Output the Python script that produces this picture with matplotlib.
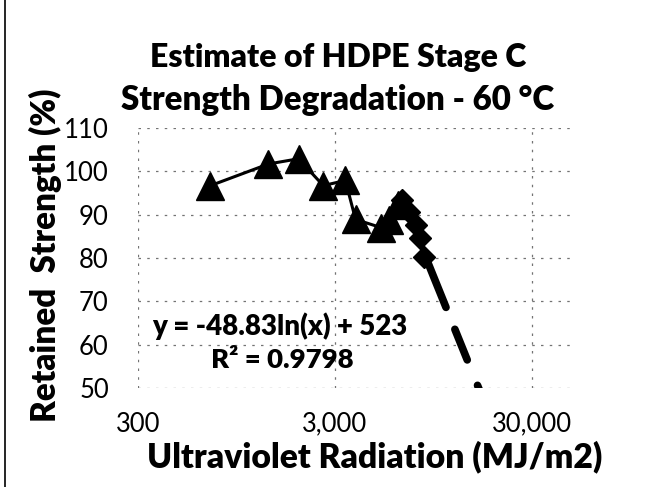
import numpy as np
import matplotlib.pyplot as plt
from matplotlib.lines import Line2D

# measured strength (triangles)
uv_tri = [700, 1380, 1960, 2620, 3390, 3820, 5160, 5670, 6300]
str_tri = [96.7, 101.7, 102.9, 96.7, 97.9, 88.9, 87.0, 88.8, 92.2]

# estimated strength (diamonds)
uv_dia = [6600, 7170, 7700, 8150, 8550]
str_dia = [93.4, 90.6, 87.6, 84.6, 80.2]

# log trendline shown on chart
trend_a = -48.83
trend_b = 523
trend_spans = [(8550, 11000), (12200, 14100), (15900, 16700)]

x_ticks = [300, 3000, 30000]
x_labels = ["300", "3,000", "30,000"]
y_ticks = [50, 60, 70, 80, 90, 100, 110]

W, H = 665, 487
plt.rcParams['font.family'] = ['Lato', 'DejaVu Sans']

fig = plt.figure(figsize=(W / 100, H / 100), dpi=100)
ax = fig.add_axes([138/W, 1-388/H, (572-138)/W, (388-128)/H])
renderer = fig.canvas.get_renderer()


def fit(t, target, vertical=False):
    # scale font so the text spans target pixels
    bb = t.get_window_extent(renderer)
    size = bb.height if vertical else bb.width
    t.set_fontsize(t.get_fontsize() * target / size)


def put(x, y, s, target, **kw):
    t = fig.text(x / W, 1 - y / H, s, fontsize=20, fontweight='heavy', **kw)
    fit(t, target, vertical=kw.get('rotation', 0) == 90)
    return t


ax.set_xscale('log')
ax.set_xlim(300, 48000)
ax.set_ylim(50, 110)

grid_style = dict(color='0.45', lw=0.9, ls=(0, (2, 5)), zorder=0)
for yt in y_ticks:
    ax.axhline(yt, **grid_style)
for xt in x_ticks:
    ax.axvline(xt, **grid_style)
for s in ax.spines.values():
    s.set_visible(False)

ax.plot(uv_tri + uv_dia, str_tri + str_dia, color='black', lw=2.2, zorder=2)
ax.plot(uv_tri, str_tri, ls='none', marker='^', ms=20, color='black', zorder=3)
ax.plot(uv_dia, str_dia, ls='none', marker='D', ms=11, color='black', zorder=3)

for lo, hi in trend_spans:
    xs = np.geomspace(lo, hi, 30)
    ax.plot(xs, trend_a * np.log(xs) + trend_b, color='black', lw=5.5,
            solid_capstyle='round', zorder=3)

ax.set_xticks(x_ticks)
ax.set_xticklabels(x_labels)
ax.set_yticks(y_ticks)
ax.minorticks_off()
probe = fig.text(0, 0, "30,000", fontsize=19)
fs = 19 * 80 / probe.get_window_extent(renderer).width
probe.remove()
ax.tick_params(length=0, labelsize=fs)
ax.tick_params(axis='y', pad=21)
ax.tick_params(axis='x', pad=17)

put(338, 67, "Estimate of HDPE Stage C", 377, ha='center', va='baseline')
put(338, 110, "Strength Degradation - 60 °C", 433, ha='center', va='baseline')
put(375, 467, "Ultraviolet Radiation (MJ/m2)", 456, ha='center', va='baseline')
put(45, 255, "Retained  Strength (%)", 334, ha='center', va='center', rotation=90)
put(280, 335, "y = -48.83ln(x) + 523", 255, ha='center', va='baseline')
put(282, 368, "R² = 0.9798", 142, ha='center', va='baseline')

fig.add_artist(Line2D([5/W, 5/W], [0, 1], color='black', lw=1.2))

fig.savefig('out.png', dpi=100)
